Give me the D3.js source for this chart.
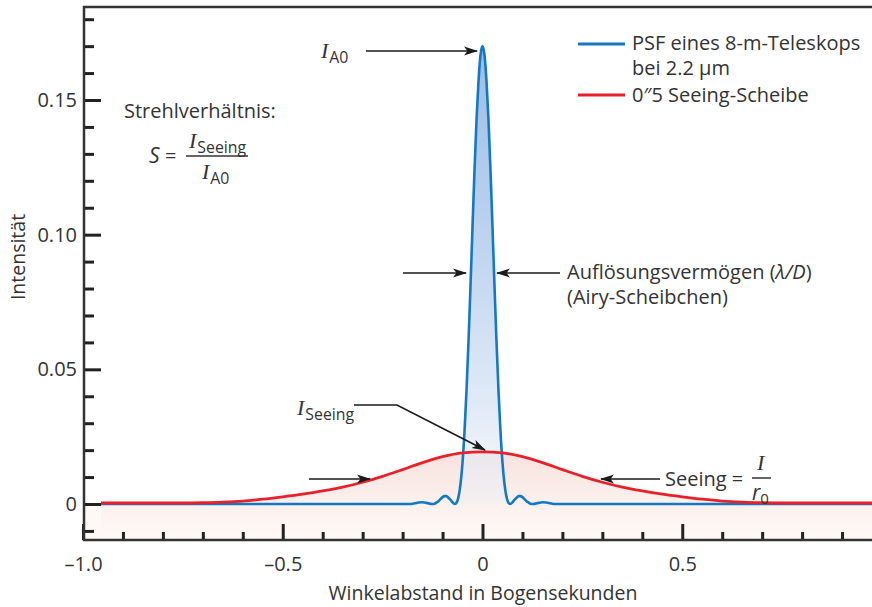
<!DOCTYPE html>
<html>
<head>
<meta charset="utf-8">
<script src="https://cdn.jsdelivr.net/npm/d3@7"></script>
<style>
  body { margin: 0; background: #fff; }
  svg { display: block; }
  text { font-family: "Open Sans", sans-serif; fill: #333; }
  .math { font-family: "Liberation Serif", serif; font-style: italic; }
  .ital { font-style: italic; }
</style>
</head>
<body>
<svg id="chart" width="872" height="607"></svg>
<script>
// ---- data ---------------------------------------------------------------
const xMajorTicks = [-1.0, -0.5, 0, 0.5];
const xMajorLabels = ["\u20131.0", "\u20130.5", "0", "0.5"];
const xMinorTicks = [-0.9, -0.8, -0.7, -0.6, -0.4, -0.3, -0.2, -0.1, 0.1, 0.2, 0.3, 0.4, 0.6, 0.7, 0.8, 0.9];
const yMajorTicks = [0, 0.05, 0.10, 0.15];
const yMajorLabels = ["0", "0.05", "0.10", "0.15"];
const yMinorTicks = [-0.01, 0.01, 0.02, 0.03, 0.04, 0.06, 0.07, 0.08, 0.09, 0.11, 0.12, 0.13, 0.14, 0.16, 0.17, 0.18];

// PSF of an 8 m telescope at 2.2 µm (angle in arcsec, intensity)
const psfAngle = [
  -0.955, -0.5, -0.3, -0.183, -0.17, -0.16, -0.15, -0.14, -0.13, -0.126, -0.12, -0.115, -0.11, -0.105,
  -0.10, -0.095, -0.09, -0.085, -0.08, -0.075, -0.069, -0.065, -0.06, -0.055, -0.05, -0.045, -0.04,
  -0.035, -0.03, -0.025, -0.02, -0.015, -0.01, -0.005, 0,
  0.005, 0.01, 0.015, 0.02, 0.025, 0.03, 0.035, 0.04, 0.045, 0.05, 0.055, 0.06, 0.065, 0.069,
  0.075, 0.08, 0.085, 0.09, 0.095, 0.10, 0.105, 0.11, 0.115, 0.12, 0.126, 0.13, 0.14, 0.15,
  0.16, 0.17, 0.183, 0.3, 0.5, 1.0
];
const psfIntensity = [
  0, 0, 0, 0, 0.00025, 0.00057, 0.00066, 0.00041, 0.00004, 0, 0.00012, 0.00057, 0.00105, 0.00183,
  0.00254, 0.00291, 0.00292, 0.00226, 0.00158, 0.0006, 0, 0.00044, 0.00267, 0.00745, 0.0154, 0.0270, 0.0422,
  0.0605, 0.0812, 0.1029, 0.124, 0.1426, 0.157, 0.1667, 0.170,
  0.1667, 0.157, 0.1426, 0.124, 0.1029, 0.0812, 0.0605, 0.0422, 0.0270, 0.0154, 0.00745, 0.00267, 0.00044, 0,
  0.0006, 0.00158, 0.00226, 0.00292, 0.00291, 0.00254, 0.00183, 0.00105, 0.00057, 0.00012, 0, 0.00004, 0.00041, 0.00066,
  0.00057, 0.00025, 0, 0, 0, 0
];

// 0.5 arcsec seeing disc
const seeingAngle = [
  -0.955, -0.8, -0.75, -0.7, -0.65, -0.6, -0.55, -0.5, -0.45, -0.4, -0.35, -0.3, -0.25, -0.2, -0.15, -0.1, -0.05, 0,
  0.05, 0.1, 0.15, 0.2, 0.25, 0.3, 0.35, 0.4, 0.45, 0.5, 0.55, 0.6, 0.65, 0.7, 0.75, 0.8, 1.0
];
const seeingIntensity = [
  0, 0, 0, 0.0001, 0.0003, 0.0007, 0.0014, 0.0023, 0.0033, 0.0045, 0.0059, 0.0077, 0.0099, 0.0124, 0.0150, 0.0172, 0.0186, 0.0190,
  0.0186, 0.0172, 0.0150, 0.0124, 0.0099, 0.0077, 0.0059, 0.0045, 0.0033, 0.0023, 0.0014, 0.0007, 0.0003, 0.0001, 0, 0, 0
];

const psfData = psfAngle.map((a, i) => [a, psfIntensity[i]]);
const seeingData = seeingAngle.map((a, i) => [a, seeingIntensity[i]]);

// ---- layout -------------------------------------------------------------
const W = 872, H = 607;
const svg = d3.select("#chart");
const x = d3.scaleLinear().domain([-1, 1]).range([83, 882]);
const y = d3.scaleLinear().domain([0, 0.15]).range([504, 100]);
const frameLeft = 84, frameTop = 7, frameBottom = 540, frameRight = W;

const ink = "#333";
const blue = "#1479c4";
const red = "#e8202a";

// ---- gradients & markers ------------------------------------------------
const defs = svg.append("defs");

const gSee = defs.append("linearGradient").attr("id", "seeFill")
  .attr("gradientUnits", "userSpaceOnUse")
  .attr("x1", 0).attr("x2", 0).attr("y1", y(0.019)).attr("y2", frameBottom);
gSee.append("stop").attr("offset", 0).attr("stop-color", "#f7e2de");
gSee.append("stop").attr("offset", 0.5).attr("stop-color", "#fbefeb");
gSee.append("stop").attr("offset", 1).attr("stop-color", "#fef9f7");

const gPsf = defs.append("linearGradient").attr("id", "psfFill")
  .attr("gradientUnits", "userSpaceOnUse")
  .attr("x1", 0).attr("x2", 0).attr("y1", y(0.17)).attr("y2", y(0));
gPsf.append("stop").attr("offset", 0).attr("stop-color", "#9cbde5").attr("stop-opacity", 1);
gPsf.append("stop").attr("offset", 0.45).attr("stop-color", "#c0d5ef").attr("stop-opacity", 1);
gPsf.append("stop").attr("offset", 0.8).attr("stop-color", "#dfe9f6").attr("stop-opacity", 0.9);
gPsf.append("stop").attr("offset", 1).attr("stop-color", "#e8eef7").attr("stop-opacity", 0.35);

defs.append("marker").attr("id", "arrow")
  .attr("markerUnits", "userSpaceOnUse")
  .attr("viewBox", "0 0 14 10").attr("refX", 13).attr("refY", 5)
  .attr("markerWidth", 14).attr("markerHeight", 10).attr("orient", "auto")
  .append("path").attr("d", "M0,0.5 L14,5 L0,9.5 L3.5,5 Z").attr("fill", "#1a1a1a");

// ---- fills --------------------------------------------------------------
svg.append("rect")
  .attr("x", frameLeft).attr("y", y(0))
  .attr("width", x(seeingAngle[0]) - frameLeft + 1).attr("height", frameBottom - y(0))
  .attr("fill", "#fef9f7");

svg.append("path").datum(seeingData)
  .attr("fill", "url(#seeFill)")
  .attr("d", d3.area().x(d => x(d[0])).y0(frameBottom).y1(d => y(d[1])).curve(d3.curveMonotoneX));

svg.append("path").datum(psfData.filter(d => Math.abs(d[0]) <= 0.07))
  .attr("fill", "url(#psfFill)")
  .attr("d", d3.area().x(d => x(d[0])).y0(y(0)).y1(d => y(d[1])).curve(d3.curveMonotoneX));

// ---- curves -------------------------------------------------------------
svg.append("path").datum(psfData)
  .attr("fill", "none").attr("stroke", blue).attr("stroke-width", 2.6)
  .attr("stroke-linejoin", "round")
  .attr("d", d3.line().x(d => x(d[0])).y(d => y(d[1])).curve(d3.curveMonotoneX));

svg.append("path").datum(seeingData)
  .attr("fill", "none").attr("stroke", red).attr("stroke-width", 2.8)
  .attr("transform", "translate(0,-1)")
  .attr("d", d3.line().x(d => x(d[0])).y(d => y(d[1])).curve(d3.curveMonotoneX));

// ---- axes ---------------------------------------------------------------
const styleAxis = g => {
  g.select(".domain").remove();
  g.selectAll(".tick line").attr("stroke", "#222").attr("stroke-width", 3);
  g.selectAll(".tick text").attr("fill", ink).attr("font-size", 20)
    .attr("font-family", "'Open Sans', sans-serif");
};

svg.append("g").attr("transform", `translate(0,${frameBottom})`)
  .call(d3.axisBottom(x).tickValues(xMinorTicks).tickSize(-8).tickFormat(""))
  .call(styleAxis);
svg.append("g").attr("transform", `translate(0,${frameBottom})`)
  .call(d3.axisBottom(x).tickValues(xMajorTicks).tickSize(-16).tickPadding(17)
    .tickFormat((d, i) => xMajorLabels[i]))
  .call(styleAxis);

svg.append("g").attr("transform", `translate(${frameLeft},0)`)
  .call(d3.axisLeft(y).tickValues(yMinorTicks).tickSize(-10).tickFormat(""))
  .call(styleAxis);
svg.append("g").attr("transform", `translate(${frameLeft},0)`)
  .call(d3.axisLeft(y).tickValues(yMajorTicks).tickSize(-17).tickPadding(7)
    .tickFormat((d, i) => yMajorLabels[i]))
  .call(styleAxis);

// frame: left, top and bottom rules
svg.append("path")
  .attr("d", `M${frameRight},${frameTop} H${frameLeft} V${frameBottom} H${frameRight}`)
  .attr("fill", "none").attr("stroke", ink).attr("stroke-width", 2.5);

// axis titles
svg.append("text").attr("x", 483).attr("y", 600).attr("text-anchor", "middle")
  .attr("font-size", 19.5).text("Winkelabstand in Bogensekunden");
svg.append("text").attr("transform", "translate(25,257) rotate(-90)")
  .attr("text-anchor", "middle").attr("font-size", 19.5).text("Intensität");

// ---- legend -------------------------------------------------------------
svg.append("line").attr("x1", 578).attr("x2", 625).attr("y1", 44).attr("y2", 44)
  .attr("stroke", blue).attr("stroke-width", 3);
svg.append("text").attr("x", 632).attr("y", 50).attr("font-size", 20).text("PSF eines 8-m-Teleskops");
svg.append("text").attr("x", 632).attr("y", 75).attr("font-size", 20).text("bei 2.2 \u00b5m");
svg.append("line").attr("x1", 578).attr("x2", 625).attr("y1", 95).attr("y2", 95)
  .attr("stroke", red).attr("stroke-width", 3);
svg.append("text").attr("x", 632).attr("y", 102).attr("font-size", 20)
  .text("0\u20335 Seeing-Scheibe");

// ---- annotations --------------------------------------------------------
function intensityLabel(xp, yp, sub, size) {
  const t = svg.append("text").attr("x", xp).attr("y", yp);
  t.append("tspan").attr("class", "math").attr("font-size", size).text("I");
  t.append("tspan").attr("font-size", size * 0.72).attr("dx", 1).attr("dy", size * 0.22).text(sub);
  return t;
}
function arrow(pts) {
  svg.append("path").attr("d", d3.line()(pts))
    .attr("fill", "none").attr("stroke", "#1a1a1a").attr("stroke-width", 1.6)
    .attr("marker-end", "url(#arrow)");
}

// peak intensity I_A0
intensityLabel(321, 58, "A0", 22);
arrow([[366, 51], [477, 51]]);

// Strehl ratio
svg.append("text").attr("x", 124).attr("y", 118).attr("font-size", 20).text("Strehlverhältnis:");
svg.append("text").attr("x", 149).attr("y", 163).attr("font-size", 21).attr("class", "ital").text("S");
svg.append("text").attr("x", 165).attr("y", 163).attr("font-size", 20).text("=");
intensityLabel(189, 148, "Seeing", 22);
svg.append("line").attr("x1", 186).attr("x2", 248).attr("y1", 156).attr("y2", 156)
  .attr("stroke", ink).attr("stroke-width", 1.5);
intensityLabel(202, 179, "A0", 22);

// resolution (Airy disc)
arrow([[403, 273], [466, 273]]);
arrow([[560, 273], [497, 273]]);
svg.append("text").attr("x", 567).attr("y", 279).attr("font-size", 20)
  .call(t => {
    t.append("tspan").text("Auflösungsvermögen (");
    t.append("tspan").attr("class", "ital").text("\u03bb/D");
    t.append("tspan").text(")");
  });
svg.append("text").attr("x", 567).attr("y", 304).attr("font-size", 20).text("(Airy-Scheibchen)");

// seeing-limited intensity
intensityLabel(297, 415, "Seeing", 22);
arrow([[354, 405], [397, 405], [485, 450]]);

// seeing disc width
arrow([[309, 479], [370, 479]]);
arrow([[660, 479], [601, 479]]);
svg.append("text").attr("x", 665).attr("y", 486).attr("font-size", 20).text("Seeing =");
svg.append("text").attr("x", 757).attr("y", 470).attr("font-size", 22).attr("class", "math").text("I");
svg.append("line").attr("x1", 752).attr("x2", 771).attr("y1", 478).attr("y2", 478)
  .attr("stroke", ink).attr("stroke-width", 1.5);
svg.append("text").attr("x", 752).attr("y", 500).attr("font-size", 21).attr("class", "ital")
  .call(t => {
    t.append("tspan").text("r");
    t.append("tspan").attr("font-size", 15).attr("font-style", "normal").attr("dy", 4).text("0");
  });
</script>
</body>
</html>
